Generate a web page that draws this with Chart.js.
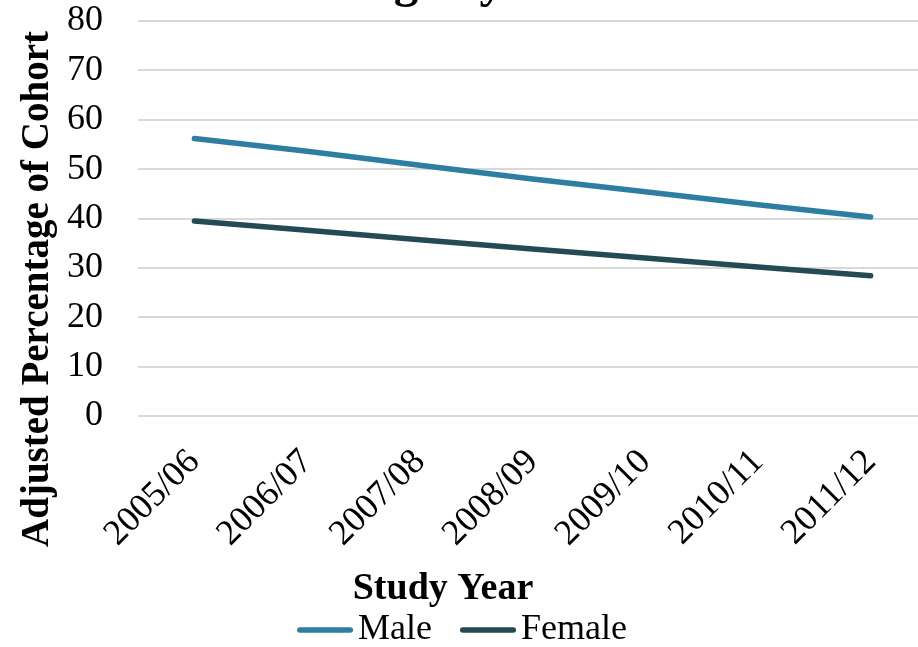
<!DOCTYPE html>
<html>
<head>
<meta charset="utf-8">
<script src="https://cdn.jsdelivr.net/npm/chart.js@4.4.1/dist/chart.umd.min.js"></script>
<style>
  html, body { margin: 0; padding: 0; background: #ffffff; overflow: hidden; }
  #wrap { width: 918px; height: 647px; overflow: hidden; }
  #chart { display: block; }
</style>
</head>
<body>
<div id="wrap"><canvas id="chart" width="927" height="647"></canvas></div>
<script>
// Study years along the x axis
const studyYears = ['2005/06', '2006/07', '2007/08', '2008/09', '2009/10', '2010/11', '2011/12'];
// Adjusted percentage of cohort, by gender
const maleValues   = [56.2, 53.6, 50.8, 48.0, 45.4, 42.8, 40.3];
const femaleValues = [39.5, 37.6, 35.7, 33.8, 32.0, 30.2, 28.4];
// Value-axis tick labels
const yTicks = [0, 10, 20, 30, 40, 50, 60, 70, 80];

const seriesNames = ['Male', 'Female'];
const seriesColors = ['#2d7ea1', '#244a56'];

const chartTitle = 'Percentage by Gender';
const xAxisTitle = 'Study Year';
const yAxisTitle = 'Adjusted Percentage of Cohort';

const SERIF = '"Liberation Serif", "Times New Roman", serif';

// Legend marker: a short rounded line, offset so the label sits close to it
function legendMarker(color) {
  const c = document.createElement('canvas');
  c.width = 66; c.height = 8;
  const g = c.getContext('2d');
  g.strokeStyle = color;
  g.lineWidth = 5.5;
  g.lineCap = 'round';
  g.beginPath();
  g.moveTo(12.75, 4);
  g.lineTo(63.25, 4);
  g.stroke();
  return c;
}
const markers = seriesColors.map(legendMarker);

// Chart title and axis titles drawn as canvas text
const titlesPlugin = {
  id: 'titlesPlugin',
  afterDraw(chart) {
    const ctx = chart.ctx;
    ctx.save();
    ctx.fillStyle = '#000000';
    ctx.textAlign = 'center';
    ctx.textBaseline = 'alphabetic';
    ctx.font = 'bold 49px ' + SERIF;
    ctx.fillText(chartTitle, 442, -3);
    ctx.font = 'bold 38px ' + SERIF;
    ctx.fillText(xAxisTitle, 443, 599);
    ctx.font = 'bold 39px ' + SERIF;
    ctx.translate(48, 289);
    ctx.rotate(-Math.PI / 2);
    ctx.fillText(yAxisTitle, 0, 0);
    ctx.restore();
  }
};

new Chart(document.getElementById('chart'), {
  type: 'line',
  data: {
    labels: studyYears,
    datasets: [
      {
        label: seriesNames[0],
        data: maleValues,
        borderColor: seriesColors[0],
        backgroundColor: seriesColors[0],
        borderWidth: 5.5,
        borderCapStyle: 'round',
        borderJoinStyle: 'round',
        pointRadius: 0,
        tension: 0
      },
      {
        label: seriesNames[1],
        data: femaleValues,
        borderColor: seriesColors[1],
        backgroundColor: seriesColors[1],
        borderWidth: 5.5,
        borderCapStyle: 'round',
        borderJoinStyle: 'round',
        pointRadius: 0,
        tension: 0
      }
    ]
  },
  options: {
    responsive: false,
    animation: false,
    layout: { autoPadding: false, padding: { top: 21, right: 0, bottom: 0, left: 0 } },
    plugins: {
      title: { display: false },
      tooltip: { enabled: false },
      legend: {
        position: 'bottom',
        maxHeight: 66,
        labels: {
          usePointStyle: true,
          pointStyleWidth: 40,
          padding: 31,
          color: '#000000',
          font: { family: SERIF, size: 36 },
          generateLabels(chart) {
            const items = Chart.defaults.plugins.legend.labels.generateLabels(chart);
            items.forEach((item, i) => { item.pointStyle = markers[i]; });
            return items;
          }
        }
      }
    },
    scales: {
      x: {
        offset: true,
        grid: { display: false, drawTicks: false },
        border: { display: false },
        ticks: {
          autoSkip: false,
          minRotation: 45,
          maxRotation: 45,
          padding: 25,
          color: '#000000',
          font: { family: SERIF, size: 36 }
        },
        afterFit(scale) {
          scale.height = 165;
          scale.paddingLeft = 0;
          scale.paddingRight = 0;
        }
      },
      y: {
        min: 0,
        max: 80,
        afterBuildTicks(scale) { scale.ticks = yTicks.map(v => ({ value: v })); },
        grid: { color: '#d9d9d9', lineWidth: 2, drawTicks: false },
        border: { display: false },
        ticks: {
          autoSkip: false,
          padding: 35,
          color: '#000000',
          font: { family: SERIF, size: 36 }
        },
        afterFit(scale) {
          scale.width = 138;
          scale.paddingTop = 0;
          scale.paddingBottom = 0;
        }
      }
    }
  },
  plugins: [titlesPlugin]
});
</script>
</body>
</html>
